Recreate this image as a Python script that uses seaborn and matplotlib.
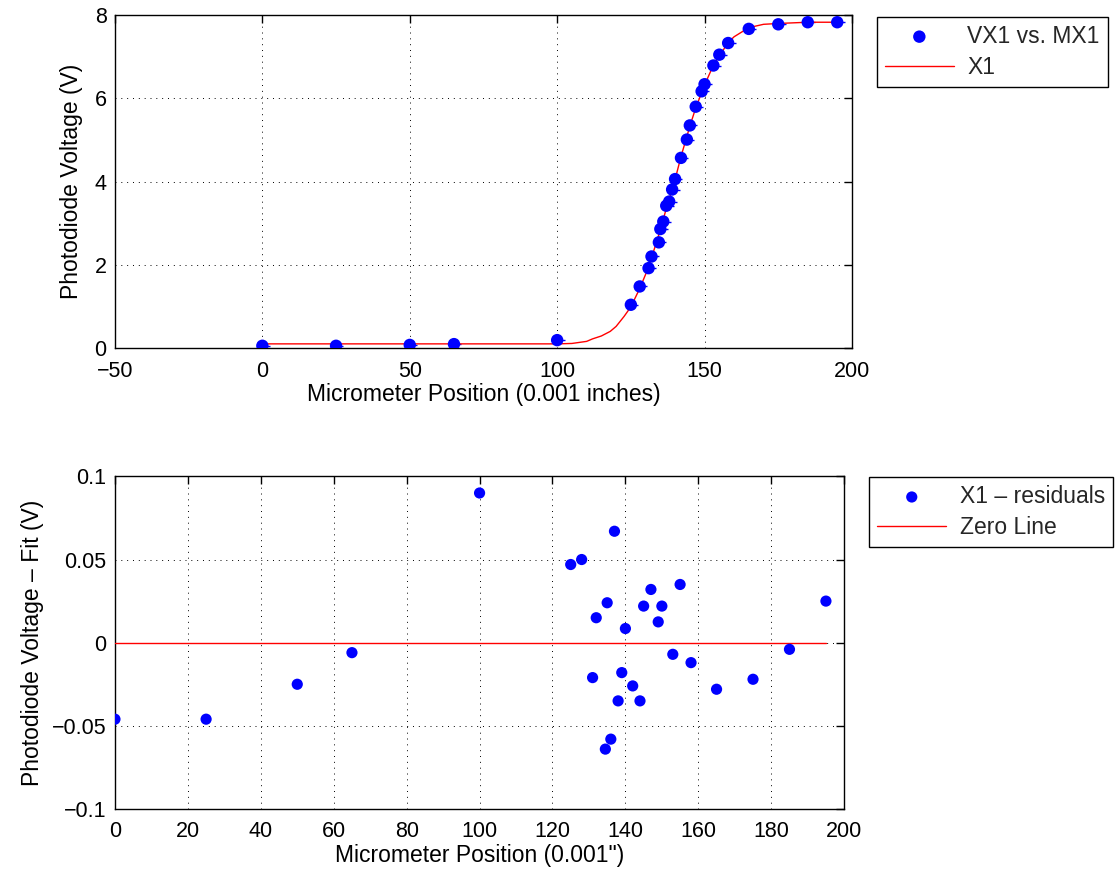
import numpy as np
import pandas as pd
import matplotlib
matplotlib.use("Agg")
import matplotlib.pyplot as plt
import seaborn as sns
from matplotlib.ticker import FuncFormatter, MultipleLocator

# ==========================================================
# 1. DADOS
# ==========================================================
posicao = [0, 25, 50, 65, 100, 125, 128, 131, 132, 134.5, 135, 136, 137, 138,
           139, 140, 142, 144, 145, 147, 149, 150, 153, 155, 158, 165, 175, 185, 195]

tensao = [0.054, 0.054, 0.075, 0.094, 0.19, 1.04, 1.48, 1.92, 2.20, 2.54, 2.86,
          3.04, 3.42, 3.52, 3.81, 4.06, 4.57, 5.01, 5.35, 5.80, 6.17, 6.34, 6.79,
          7.05, 7.33, 7.67, 7.78, 7.83, 7.83]

residuos = [-0.046, -0.046, -0.025, -0.006, 0.090, 0.047, 0.050, -0.021, 0.015,
            -0.064, 0.024, -0.058, 0.067, -0.035, -0.018, 0.0085, -0.026, -0.035,
            0.022, 0.032, 0.0125, 0.022, -0.007, 0.035, -0.012, -0.028, -0.022,
            -0.004, 0.025]

# curva de ajuste (X1)
ajuste_x = [0, 100, 105, 110, 112, 115, 118, 120, 122.7, 125, 128, 131, 135, 137,
            140, 142, 145, 147, 150, 153, 155, 158, 160, 165, 170, 175, 185, 195]
ajuste_y = [0.10, 0.10, 0.11, 0.16, 0.22, 0.29, 0.40, 0.52, 0.76, 0.99, 1.43,
            1.94, 2.84, 3.35, 4.05, 4.60, 5.33, 5.77, 6.32, 6.80, 7.02, 7.34,
            7.48, 7.70, 7.78, 7.80, 7.83, 7.83]

zero_x = [0, 195]
zero_y = [0, 0]

XERR_ESQ = 0.5
XERR_DIR = 2.5

dados = pd.DataFrame({"pos": posicao, "v": tensao, "res": residuos})
ajuste = pd.DataFrame({"x": ajuste_x, "y": ajuste_y})
zero = pd.DataFrame({"x": zero_x, "y": zero_y})

# ==========================================================
# 2. ESTILO
# ==========================================================
FS = 16.5
FS_TICK = 15.5
sns.set_theme(style="white")
plt.rcParams["font.family"] = ["Liberation Sans", "DejaVu Sans"]
plt.rcParams["font.size"] = FS
plt.rcParams["axes.linewidth"] = 1.0
plt.rcParams["axes.edgecolor"] = "black"
plt.rcParams["xtick.color"] = "black"
plt.rcParams["ytick.color"] = "black"
plt.rcParams["axes.labelcolor"] = "black"

fig = plt.figure(figsize=(11.15, 8.76), dpi=100)
ax1 = fig.add_axes([0.1031, 0.6027, 0.661, 0.380])
ax2 = fig.add_axes([0.1031, 0.0765, 0.654, 0.3797])


def estilo_matlab(ax):
    ax.tick_params(direction="in", length=6, width=1, top=True, right=True,
                   labelsize=FS_TICK)
    ax.tick_params(axis="x", pad=9)
    ax.tick_params(axis="y", pad=6)
    ax.grid(True, color="black", linestyle=(0, (1, 5)), linewidth=0.7)
    for s in ax.spines.values():
        s.set_visible(True)
        s.set_color("black")


def legenda(ax, ancora):
    leg = ax.legend(loc="upper left", bbox_to_anchor=ancora, bbox_transform=fig.transFigure,
                    fontsize=FS, frameon=True, fancybox=False, edgecolor="black",
                    framealpha=1, handlelength=3.0, borderpad=0.35, labelspacing=0.36,
                    handletextpad=0.6, borderaxespad=0)
    leg.get_frame().set_linewidth(1)
    return leg


# ==========================================================
# 3. GRÁFICO SUPERIOR
# ==========================================================
ax1.errorbar(dados["pos"], dados["v"], xerr=[[XERR_ESQ] * len(dados), [XERR_DIR] * len(dados)],
             fmt="none", ecolor="blue", elinewidth=1, capsize=0, zorder=3)
sns.scatterplot(data=dados, x="pos", y="v", ax=ax1, color="blue", s=80,
                edgecolor="none", label="VX1 vs. MX1", zorder=4)
sns.lineplot(data=ajuste, x="x", y="y", ax=ax1, color="red", linewidth=1,
             label="X1", zorder=3)
ax1.set_xlim(-50, 200)
ax1.set_ylim(0, 8)
ax1.xaxis.set_major_locator(MultipleLocator(50))
ax1.yaxis.set_major_locator(MultipleLocator(2))
ax1.set_xlabel("Micrometer Position (0.001 inches)", fontsize=FS, labelpad=1)
ax1.set_ylabel("Photodiode Voltage (V)", fontsize=FS, labelpad=8)
estilo_matlab(ax1)
legenda(ax1, (0.7865, 0.981))

# ==========================================================
# 4. GRÁFICO INFERIOR - RESÍDUOS
# ==========================================================
sns.scatterplot(data=dados, x="pos", y="res", ax=ax2, color="blue", s=65,
                edgecolor="none", label="X1 \u2013 residuals", zorder=4)
sns.lineplot(data=zero, x="x", y="y", ax=ax2, color="red", linewidth=1,
             label="Zero Line", zorder=3)
ax2.set_xlim(0, 200)
ax2.set_ylim(-0.1, 0.1)
ax2.xaxis.set_major_locator(MultipleLocator(20))
ax2.yaxis.set_major_locator(MultipleLocator(0.05))
ax2.yaxis.set_major_formatter(FuncFormatter(lambda v, p: ("%g" % round(v, 3)).replace("-", "\u2212")))
ax2.set_xlabel("Micrometer Position (0.001\")", fontsize=FS, labelpad=1)
ax2.set_ylabel("Photodiode Voltage \u2013 Fit (V)", fontsize=FS, labelpad=6)
estilo_matlab(ax2)
legenda(ax2, (0.7797, 0.4555))

fig.savefig("out.png", dpi=100)
plt.close(fig)
